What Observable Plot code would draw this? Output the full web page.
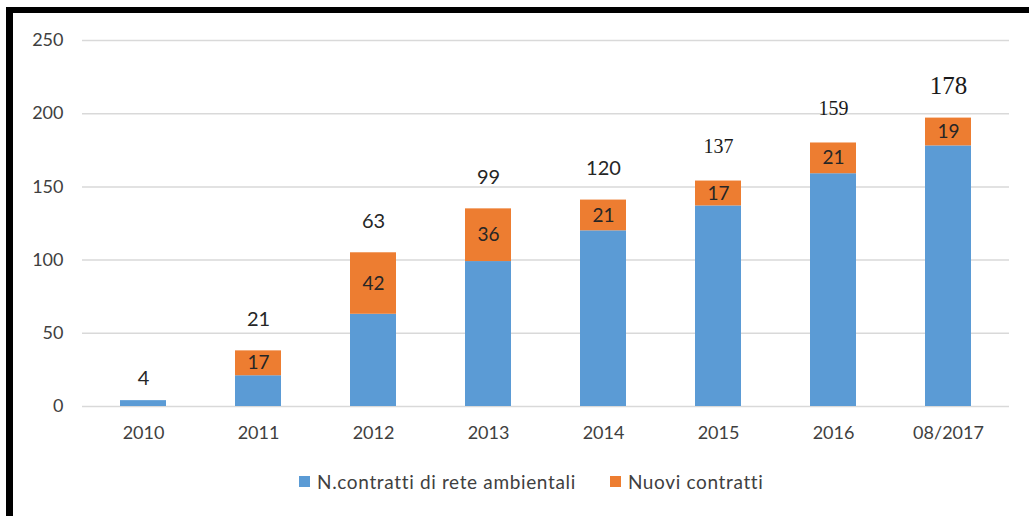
<!DOCTYPE html>
<html>
<head>
<meta charset="utf-8">
<script src="https://cdn.jsdelivr.net/npm/d3@7"></script>
<script src="https://cdn.jsdelivr.net/npm/@observablehq/plot@0.6"></script>
<style>
  html, body { margin: 0; padding: 0; background: #fff; width: 1029px; height: 516px; overflow: hidden; }
  #wrap { position: relative; width: 1029px; height: 516px; }
  #frame { position: absolute; left: 6px; top: 7px; width: 1100px; height: 506px;
           border-left: 7px solid #000; border-top: 6px solid #000; border-bottom: 4px solid #000;
           box-sizing: content-box; pointer-events: none; }
  #legend { position: absolute; left: 299px; top: 465px; font-family: Lato, sans-serif; font-size: 19px; letter-spacing: 0.65px; color: #404040; }
  #legend span { margin-right: 34px !important; }
  #legend svg { margin-right: 7px !important; }
</style>
</head>
<body>
<div id="wrap">
  <div id="chart"></div>
  <div id="legend"></div>
  <div id="frame"></div>
</div>
<script>
const categories = ["2010", "2011", "2012", "2013", "2014", "2015", "2016", "08/2017"];
const baseValues = [4, 21, 63, 99, 120, 137, 159, 178];
const newValues = [0, 17, 42, 36, 21, 17, 21, 19];
const seriesNames = ["N.contratti di rete ambientali", "Nuovi contratti"];
const seriesColors = ["#5B9BD5", "#ED7D31"];
const yTicks = [0, 50, 100, 150, 200, 250];

const rows = [];
categories.forEach((c, i) => {
  rows.push({cat: c, series: seriesNames[0], value: baseValues[i]});
  rows.push({cat: c, series: seriesNames[1], value: newValues[i]});
});
const totals = categories.map((c, i) => ({cat: c, total: baseValues[i] + newValues[i], base: baseValues[i], nuovi: newValues[i], idx: i}));

const chart = Plot.plot({
  width: 1029,
  height: 450,
  marginLeft: 82,
  marginRight: 20,
  marginTop: 40,
  marginBottom: 44,
  style: {fontFamily: "Lato, sans-serif", fontSize: "18px", color: "#404040", background: "transparent"},
  x: {domain: categories, paddingInner: 0.6, paddingOuter: 0.3, label: null, tickSize: 0, tickPadding: 20},
  y: {domain: [0, 250], ticks: yTicks, label: null, tickSize: 0, tickPadding: 19},
  color: {domain: seriesNames, range: seriesColors},
  marks: [
    Plot.gridY(yTicks, {stroke: "#d9d9d9", strokeOpacity: 1, strokeWidth: 1.5}),
    Plot.barY(rows, {x: "cat", y: "value", fill: "series", order: seriesNames}),
    Plot.text(totals.filter(d => d.nuovi > 0), {x: "cat", y: d => d.base + d.nuovi / 2, text: d => String(d.nuovi), fill: "#262626", fontSize: 19, fontFamily: "Lato, sans-serif"}),
    Plot.text(totals.filter(d => d.idx === 0), {x: "cat", y: "total", text: d => String(d.base), dy: -22, fill: "#262626", fontSize: 20, fontFamily: "Lato, sans-serif"}),
    Plot.text(totals.filter(d => d.idx > 0 && d.idx < 5), {x: "cat", y: "total", text: d => String(d.base), dy: -31, fill: "#262626", fontSize: 20, fontFamily: "Lato, sans-serif"}),
    Plot.text(totals.filter(d => d.idx >= 5 && d.idx < 7), {x: "cat", y: "total", text: d => String(d.base), dy: -34, fill: "#1a1a1a", fontSize: 20, fontFamily: "Liberation Serif, serif"}),
    Plot.text(totals.filter(d => d.idx === 7), {x: "cat", y: "total", text: d => String(d.base), dy: -32, fill: "#1a1a1a", fontSize: 25, fontFamily: "Liberation Serif, serif"})
  ]
});
document.getElementById("chart").appendChild(chart);

const legend = Plot.legend({
  color: {domain: seriesNames, range: seriesColors},
  legend: "swatches",
  swatchSize: 11,
  style: {fontFamily: "Lato, sans-serif", fontSize: "19px", color: "#404040"}
});
document.getElementById("legend").appendChild(legend);
</script>
</body>
</html>
